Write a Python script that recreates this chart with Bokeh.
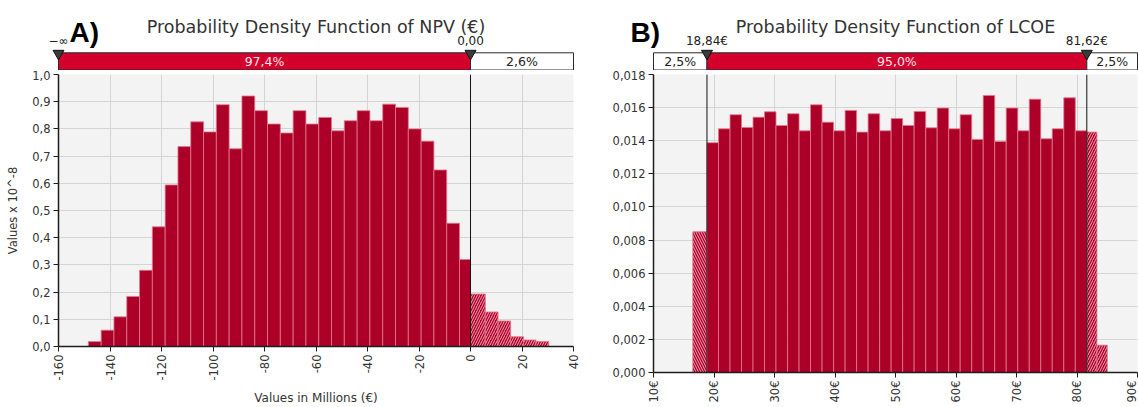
import math
from bokeh.plotting import figure
from bokeh.layouts import row, column
from bokeh.models import Range1d, FixedTicker, CustomJSTickFormatter, Span, ColumnDataSource
from bokeh.core.properties import value
from bokeh.embed import file_html
from bokeh.resources import INLINE

# ---------------- data: NPV (A) ----------------
npv_edges = [-148.4, -143.43, -138.46, -133.49, -128.52, -123.55, -118.58, -113.61,
             -108.64, -103.67, -98.7, -93.73, -88.76, -83.79, -78.82, -73.85, -68.88,
             -63.91, -58.94, -53.97, -49.0, -44.03, -39.06, -34.09, -29.12, -24.15,
             -19.18, -14.21, -9.24, -4.27, 0.0, 5.75, 10.7, 15.6, 20.6, 25.4, 30.4]
npv_density = [0.018, 0.06, 0.109, 0.184, 0.28, 0.44, 0.594, 0.735, 0.826, 0.789,
               0.889, 0.727, 0.921, 0.867, 0.818, 0.785, 0.867, 0.818, 0.842, 0.793,
               0.83, 0.867, 0.83, 0.891, 0.879, 0.80, 0.755, 0.649, 0.453, 0.32,
               0.193, 0.127, 0.094, 0.036, 0.024, 0.018]
npv_low_cut = -math.inf
npv_high_cut = 0.0
npv_delims = [-160.0, 0.0]
npv_delim_labels = ["\u2212\u221e", "0,00"]
npv_band_edges = [-160.0, 0.0, 40.0]
npv_band_labels = ["97,4%", "2,6%"]
npv_band_inside = [True, False]
npv_xticks = [-160, -140, -120, -100, -80, -60, -40, -20, 0, 20, 40]
npv_yticks = [0.0, 0.1, 0.2, 0.3, 0.4, 0.5, 0.6, 0.7, 0.8, 0.9, 1.0]
npv_xrange = (-160.0, 40.0)
npv_yrange = (0.0, 1.0)
npv_title = "Probability Density Function of NPV (\u20ac)"
npv_letter = "A)"
npv_xlabel = "Values in Millions (\u20ac)"
npv_ylabel = "Values x 10^-8"

# ---------------- data: LCOE (B) ----------------
lcoe_edges = [16.5, 18.84, 20.74, 22.65, 24.55, 26.45, 28.35, 30.25, 32.16, 34.06,
              35.96, 37.86, 39.77, 41.67, 43.57, 45.47, 47.38, 49.28, 51.18, 53.08,
              54.99, 56.89, 58.79, 60.69, 62.6, 64.5, 66.4, 68.3, 70.21, 72.11,
              74.01, 75.91, 77.82, 79.72, 81.62, 83.3, 85.0]
lcoe_density = [0.0085, 0.01388, 0.01472, 0.01557, 0.0148, 0.01542, 0.01575, 0.01492,
                0.01563, 0.0146, 0.01617, 0.01512, 0.0146, 0.01583, 0.01452, 0.01563,
                0.0146, 0.01534, 0.01492, 0.01577, 0.01478, 0.01597, 0.01472, 0.01557,
                0.01408, 0.01673, 0.01396, 0.01597, 0.0146, 0.01651, 0.01412, 0.01472,
                0.01659, 0.0146, 0.01452, 0.00165]
lcoe_low_cut = 18.84
lcoe_high_cut = 81.62
lcoe_delims = [18.84, 81.62]
lcoe_delim_labels = ["18,84\u20ac", "81,62\u20ac"]
lcoe_band_edges = [10.0, 18.84, 81.62, 90.0]
lcoe_band_labels = ["2,5%", "95,0%", "2,5%"]
lcoe_band_inside = [False, True, False]
lcoe_xticks = [10, 20, 30, 40, 50, 60, 70, 80, 90]
lcoe_yticks = [0.0, 0.002, 0.004, 0.006, 0.008, 0.010, 0.012, 0.014, 0.016, 0.018]
lcoe_xrange = (10.0, 90.0)
lcoe_yrange = (0.0, 0.018)
lcoe_title = "Probability Density Function of LCOE"
lcoe_letter = "B)"

# ---------------- styles ----------------
FONT = "DejaVu Sans"
BAR_RED = "#AC0029"
BAR_EDGE = "#E3788D"
HATCH_COL = "#F2A1B1"
BAND_RED = "#D3002C"
PLOT_BG = "#F3F3F3"
GRID = "#D4D4D4"
AXIS = "#1E1E1E"
TXT = "#333333"

HEADER_H = 70
MAIN_H = 337
TOP_GAP = 4


def split_bins(edges, dens, lo, hi):
    parts = {k: dict(left=[], right=[], top=[]) for k in ("low", "mid", "high")}
    for i, d in enumerate(dens):
        l, r = edges[i], edges[i + 1]
        if r <= lo:
            k = "low"
        elif l >= hi:
            k = "high"
        else:
            k = "mid"
        parts[k]["left"].append(l)
        parts[k]["right"].append(r)
        parts[k]["top"].append(d)
    return parts


def main_fig(width, bl, br, bb, xr, yr, xticks, yticks, xcode, ycode,
             edges, dens, lo, hi, spans, xlabel=None, ylabel=None):
    p = figure(width=width, height=MAIN_H, x_range=Range1d(*xr), y_range=Range1d(*yr),
               output_backend="svg", toolbar_location=None, tools="",
               min_border_left=bl, min_border_right=br, min_border_top=TOP_GAP,
               min_border_bottom=bb, frame_align=False)
    p.background_fill_color = PLOT_BG
    p.border_fill_color = "white"
    p.outline_line_color = None

    parts = split_bins(edges, dens, lo, hi)
    p.quad(left="left", right="right", top="top", bottom=0,
           source=ColumnDataSource(parts["mid"]),
           fill_color=BAR_RED, line_color=BAR_EDGE, line_width=0.8)
    p.quad(left="left", right="right", top="top", bottom=0,
           source=ColumnDataSource(parts["low"]),
           fill_color=BAR_RED, line_color=BAR_EDGE, line_width=0.8,
           hatch_pattern="\\", hatch_color=HATCH_COL, hatch_weight=1, hatch_scale=5)
    p.quad(left="left", right="right", top="top", bottom=0,
           source=ColumnDataSource(parts["high"]),
           fill_color=BAR_RED, line_color=BAR_EDGE, line_width=0.8,
           hatch_pattern="/", hatch_color=HATCH_COL, hatch_weight=1, hatch_scale=5)

    for s in spans:
        p.add_layout(Span(location=s, dimension="height", line_color="#111111", line_width=1))

    p.xaxis.ticker = FixedTicker(ticks=xticks)
    p.yaxis.ticker = FixedTicker(ticks=yticks)
    p.xaxis.formatter = CustomJSTickFormatter(code=xcode)
    p.yaxis.formatter = CustomJSTickFormatter(code=ycode)
    p.xaxis.major_label_orientation = math.pi / 2
    for ax in (p.xaxis, p.yaxis):
        ax.axis_line_color = AXIS
        ax.axis_line_width = 1.5
        ax.major_tick_line_color = AXIS
        ax.major_tick_in = 0
        ax.major_tick_out = 5
        ax.minor_tick_line_color = None
        ax.major_label_standoff = 3
        ax.major_label_text_font = FONT
        ax.major_label_text_font_size = "11.5px"
        ax.major_label_text_color = TXT
        ax.axis_label_text_font = FONT
        ax.axis_label_text_font_style = "normal"
        ax.axis_label_text_color = TXT
    p.xaxis.axis_label = xlabel
    p.xaxis.axis_label_text_font_size = "12px"
    p.xaxis.axis_label_standoff = 7
    p.yaxis.axis_label = ylabel
    p.yaxis.axis_label_text_font_size = "11.5px"
    p.yaxis.axis_label_standoff = 9
    p.xgrid.ticker = FixedTicker(ticks=xticks)
    p.ygrid.ticker = FixedTicker(ticks=yticks)
    p.grid.grid_line_color = GRID
    p.grid.grid_line_width = 1
    return p


def header_fig(width, bl, br, xr, band_edges, band_labels, band_inside,
               delims, delim_labels, title, letter, letter_offset):
    fw = width - bl - br
    scale = (xr[1] - xr[0]) / fw
    hx = (xr[0] - bl * scale, xr[1] + br * scale)
    h = figure(width=width, height=HEADER_H, x_range=Range1d(*hx),
               y_range=Range1d(HEADER_H, 0), x_axis_type=None, y_axis_type=None,
               output_backend="svg", toolbar_location=None, tools="",
               min_border_left=0, min_border_right=0, min_border_top=0,
               min_border_bottom=0, frame_align=False)
    h.outline_line_color = None
    h.background_fill_color = "white"
    h.border_fill_color = "white"
    h.grid.visible = False

    lefts = band_edges[:-1]
    rights = band_edges[1:]
    h.quad(left=lefts, right=rights, top=52.3, bottom=69.5,
           fill_color=[BAND_RED if b else "white" for b in band_inside],
           line_color="#2A2A2A", line_width=1)
    h.text(x=[(a + b) / 2 for a, b in zip(lefts, rights)], y=61.3, text=band_labels,
           text_align="center", text_baseline="middle", text_font=value(FONT),
           text_font_size="12.5px",
           text_color=["#FFE4EA" if b else "#222222" for b in band_inside])
    h.scatter(x=delims, y=53, marker="inverted_triangle", size=11,
              fill_color="#3A3A3A", line_color="#111111", line_width=1)
    h.text(x=delims, y=40, text=delim_labels, text_align="center",
           text_baseline="middle", text_font=value(FONT), text_font_size="12px",
           text_color="#222222")
    h.text(x=[(xr[0] + xr[1]) / 2], y=[26.7], text=[title], text_align="center",
           text_baseline="alphabetic", text_font=value(FONT), text_font_size="17.5px",
           text_color=TXT)
    h.text(x=[xr[0]], y=[31.7], text=[letter], x_offset=letter_offset,
           text_align="left", text_baseline="alphabetic",
           text_font=value("Liberation Sans"), text_font_style="bold",
           text_font_size="28px", text_color="#000000")
    return h


# left panel geometry
WA, BLA, BRA, BBA = 598, 58, 25, 57
# right panel geometry
WB, BLB, BRB, BBB = 540, 55, 1, 35

hA = header_fig(WA, BLA, BRA, npv_xrange, npv_band_edges, npv_band_labels,
                npv_band_inside, npv_delims, npv_delim_labels, npv_title,
                npv_letter, 11)
mA = main_fig(WA, BLA, BRA, BBA, npv_xrange, npv_yrange, npv_xticks, npv_yticks,
              "return tick.toFixed(0);",
              "return tick.toFixed(1).replace('.', ',');",
              npv_edges, npv_density, npv_low_cut, npv_high_cut, [npv_high_cut],
              xlabel=npv_xlabel, ylabel=npv_ylabel)

hB = header_fig(WB, BLB, BRB, lcoe_xrange, lcoe_band_edges, lcoe_band_labels,
                lcoe_band_inside, lcoe_delims, lcoe_delim_labels, lcoe_title,
                lcoe_letter, -23)
mB = main_fig(WB, BLB, BRB, BBB, lcoe_xrange, lcoe_yrange, lcoe_xticks, lcoe_yticks,
              "return tick.toFixed(0) + '\u20ac';",
              "return tick.toFixed(3).replace('.', ',');",
              lcoe_edges, lcoe_density, lcoe_low_cut, lcoe_high_cut,
              [lcoe_low_cut, lcoe_high_cut])

layout = row(column(hA, mA), column(hB, mB))

open("out.html", "w").write(file_html(layout, INLINE))
